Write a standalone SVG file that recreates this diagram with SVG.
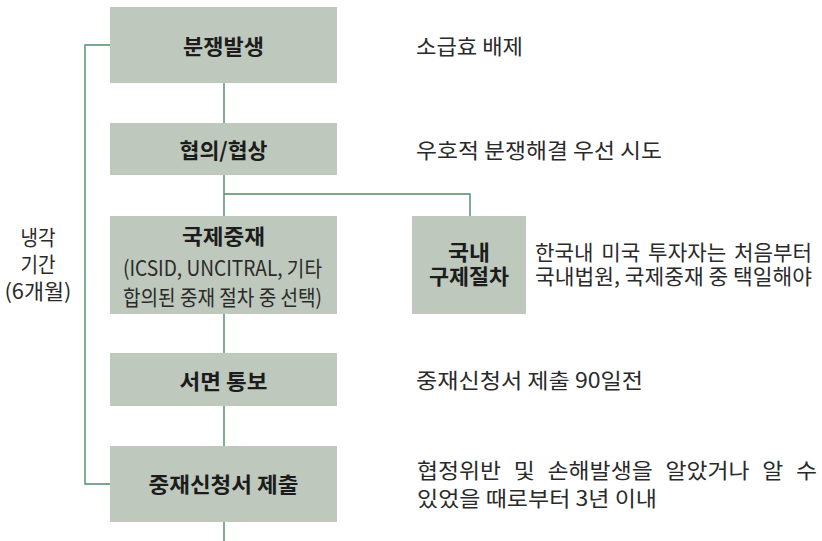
<svg xmlns="http://www.w3.org/2000/svg" width="822" height="541" viewBox="0 0 822 541">
<style>
.box{fill:#bec8bd;}
.ln{fill:none;stroke:#4f8c69;stroke-width:1.4;}
.t{font-family:"Noto Sans CJK KR","Noto Sans",sans-serif;fill:#1c1c1c;}
.b{font-size:21px;font-weight:700;text-anchor:middle;}
.s{font-size:21px;font-weight:400;text-anchor:middle;fill:#2a2a2a;}
.r{font-size:21px;font-weight:400;fill:#2a2a2a;}
</style>
<rect width="822" height="541" fill="#ffffff"/>
<g id="connectors">
<path class="ln" d="M224,83V123M224,175V216M224,194H470V216M224,314V353M224,406V446M224,522V541"/>
<path class="ln" d="M110,45H85V484H110"/>
</g>
<g id="n1"><rect class="box" x="110" y="7" width="227" height="76"/><text class="t b" x="223.5" y="54" textLength="81" lengthAdjust="spacingAndGlyphs">분쟁발생</text></g>
<g id="n2"><rect class="box" x="110" y="123" width="227" height="52"/><text class="t b" x="223.5" y="158" textLength="88" lengthAdjust="spacingAndGlyphs">협의/협상</text></g>
<g id="n3"><rect class="box" x="110" y="216" width="227" height="98"/>
<text class="t b" x="223.5" y="244" textLength="83" lengthAdjust="spacingAndGlyphs">국제중재</text>
<text class="t s" x="222.5" y="276" textLength="199" lengthAdjust="spacingAndGlyphs">(ICSID, UNCITRAL, 기타</text>
<text class="t s" x="222.5" y="305" textLength="199" lengthAdjust="spacingAndGlyphs">합의된 중재 절차 중 선택)</text></g>
<g id="n4"><rect class="box" x="412" y="216" width="114" height="98"/>
<text class="t b" x="469" y="260" textLength="42" lengthAdjust="spacingAndGlyphs">국내</text>
<text class="t b" x="469" y="284" textLength="80" lengthAdjust="spacingAndGlyphs">구제절차</text></g>
<g id="n5"><rect class="box" x="110" y="353" width="227" height="53"/><text class="t b" x="223.5" y="389" textLength="88" lengthAdjust="spacingAndGlyphs">서면 통보</text></g>
<g id="n6"><rect class="box" x="110" y="446" width="227" height="76"/><text class="t b" x="223.5" y="492" textLength="150" lengthAdjust="spacingAndGlyphs">중재신청서 제출</text></g>
<g id="labels">
<text class="t r" x="38" y="245" text-anchor="middle" textLength="35" lengthAdjust="spacingAndGlyphs">냉각</text>
<text class="t r" x="38" y="272" text-anchor="middle" textLength="35" lengthAdjust="spacingAndGlyphs">기간</text>
<text class="t r" x="38" y="299" text-anchor="middle" textLength="67" lengthAdjust="spacingAndGlyphs">(6개월)</text>
<text class="t r" x="416" y="54" textLength="107" lengthAdjust="spacingAndGlyphs">소급효 배제</text>
<text class="t r" x="416" y="158" textLength="246" lengthAdjust="spacingAndGlyphs">우호적 분쟁해결 우선 시도</text>
<text class="t r" x="535" y="260" word-spacing="3" textLength="277" lengthAdjust="spacingAndGlyphs">한국내 미국 투자자는 처음부터</text>
<text class="t r" x="535" y="284" textLength="277" lengthAdjust="spacingAndGlyphs">국내법원, 국제중재 중 택일해야</text>
<text class="t r" x="416" y="388" textLength="227" lengthAdjust="spacingAndGlyphs">중재신청서 제출 90일전</text>
<text class="t r" x="417" y="478" word-spacing="7" textLength="400" lengthAdjust="spacingAndGlyphs">협정위반 및 손해발생을 알았거나 알 수</text>
<text class="t r" x="417" y="506" textLength="240" lengthAdjust="spacingAndGlyphs">있었을 때로부터 3년 이내</text>
</g>
</svg>
